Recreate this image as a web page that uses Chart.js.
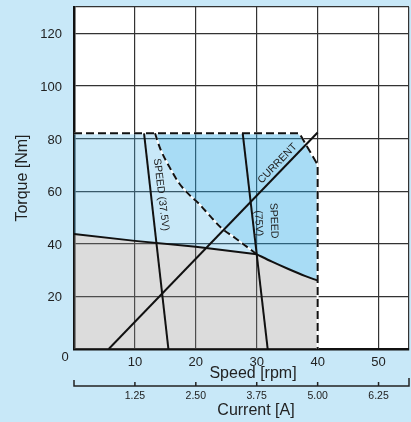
<!DOCTYPE html>
<html>
<head>
<meta charset="utf-8">
<script src="https://cdn.jsdelivr.net/npm/chart.js@4.4.0/dist/chart.umd.min.js"></script>
<style>
  html, body { margin: 0; padding: 0; background: #c8e8f8; }
  #wrap { width: 411px; height: 422px; position: relative; }
</style>
</head>
<body>
<div id="wrap"><canvas id="chart"></canvas></div>
<script>
// ticks
const speedTicks = [10, 20, 30, 40, 50];
const currentTicks = [1.25, 2.5, 3.75, 5, 6.25];
const torqueTicks = [20, 40, 60, 80, 100, 120];

// continuous torque line
const torqueX = [0, 10, 20, 30];
const torqueY = [43.7, 41.1, 38.9, 36];

// 75V speed limit curve
const limit75X = [30, 32.5, 35.2, 38, 40];
const limit75Y = [36, 33.2, 30.4, 27.7, 26];

// 37.5V envelope (dashed curve)
const env37X = [13.3, 14.2, 15.6, 17.2, 18.9, 20.4, 22.4, 24.2, 26.5, 28.7, 30];
const env37Y = [82, 75.9, 69.5, 63.2, 58.7, 55.5, 50.4, 46, 42.1, 38.3, 36];

// peak torque limit (dashed)
const peakX = [0, 37, 40, 40];
const peakY = [82, 82, 70, 0];

const speed37X = [11.5, 15.5];
const speed37Y = [82, 0];
const speed75X = [27.7, 31.8];
const speed75Y = [82, 0];
const currentX = [5.7, 40];
const currentY = [0, 82.3];

const FONT = '"Liberation Sans", Arial, sans-serif';

function pts(xs, ys) {
    return xs.map((x, i) => ({ x: x, y: ys[i] }));
}

// zonas preenchidas
const grayPts = pts(torqueX, torqueY).concat(pts(limit75X, limit75Y).slice(1));

const palePts = [{ x: peakX[0], y: peakY[0] }]
    .concat(pts(env37X, env37Y))
    .concat(pts(torqueX, torqueY).reverse().slice(1));

const bluePts = [{ x: env37X[0], y: env37Y[0] }]
    .concat(pts(peakX, peakY).slice(1, 3))
    .concat(pts(limit75X, limit75Y).reverse())
    .concat(pts(env37X, env37Y).reverse().slice(1));

function area(data, color, fill, order) {
    return {
        data: data, fill: fill, backgroundColor: color,
        borderColor: 'transparent', borderWidth: 0,
        pointRadius: 0, order: order
    };
}

function line(data, color, width, dash, order, smooth) {
    return {
        data: data, fill: false, borderColor: color, borderWidth: width,
        borderDash: dash || [], pointRadius: 0, order: order,
        cubicInterpolationMode: smooth ? 'monotone' : 'default'
    };
}

function noPad(s) {
    s.paddingTop = 0;
    s.paddingBottom = 0;
    s.paddingLeft = 0;
    s.paddingRight = 0;
}

const decor = {
    id: 'decor',
    beforeDraw(chart) {
        const a = chart.chartArea;
        const ctx = chart.ctx;
        ctx.save();
        ctx.fillStyle = '#fff';
        ctx.fillRect(a.left, a.top, a.right - a.left, a.bottom - a.top);
        ctx.restore();
    },
    afterDraw(chart) {
        const ctx = chart.ctx;
        const a = chart.chartArea;
        const x = chart.scales.x, y = chart.scales.y, x2 = chart.scales.x2;
        ctx.save();
        ctx.fillStyle = '#222';

        ctx.font = '13px ' + FONT;
        ctx.textAlign = 'center';
        ctx.textBaseline = 'middle';
        ctx.fillText('0', a.left - 9, a.bottom + 8);

        // eixo da corrente
        const ly = x2.top;
        ctx.strokeStyle = '#222';
        ctx.lineWidth = 1.5;
        ctx.beginPath();
        ctx.moveTo(a.left, ly - 6);
        ctx.lineTo(a.left, ly);
        ctx.lineTo(a.right, ly);
        ctx.lineTo(a.right, ly - 8);
        currentTicks.forEach(v => {
            const px = x2.getPixelForValue(v);
            ctx.moveTo(px, ly);
            ctx.lineTo(px, ly - 4);
        });
        ctx.stroke();

        ctx.font = '16px ' + FONT;
        ctx.textBaseline = 'alphabetic';
        ctx.fillText('Speed [rpm]', 253, 378);
        ctx.fillText('Current [A]', 256, 415);
        ctx.save();
        ctx.translate(26.5, (a.top + a.bottom) / 2);
        ctx.rotate(-Math.PI / 2);
        ctx.fillText('Torque [Nm]', 0, 0);
        ctx.restore();

        // rótulos das curvas
        ctx.font = '10.5px ' + FONT;
        ctx.textBaseline = 'middle';
        function label(text, vx, vy, deg) {
            ctx.save();
            ctx.translate(x.getPixelForValue(vx), y.getPixelForValue(vy));
            ctx.rotate(deg * Math.PI / 180);
            ctx.fillText(text, 0, 0);
            ctx.restore();
        }
        label('SPEED (37.5V)', 14.3, 58.7, 83);
        label('SPEED', 32.8, 48.8, 88);
        label('(75V)', 30.3, 47.8, 88);
        label('CURRENT', 33.4, 70.5, -46);
        ctx.restore();
    }
};

new Chart(document.getElementById('chart'), {
    type: 'line',
    data: {
        datasets: [
            area(palePts, 'rgba(72,178,232,0.3)', 'shape', 9),
            area(bluePts, 'rgba(38,168,230,0.4)', 'shape', 8),
            area(grayPts, 'rgba(138,138,138,0.3)', 'origin', 7),
            line(pts(env37X, env37Y), '#fff', 2, null, 6, true),
            line(pts(peakX, peakY), '#fff', 2, null, 6),
            line(pts(env37X, env37Y), '#111', 2, [7, 4], 5, true),
            line(pts(peakX, peakY), '#111', 2, [8, 4], 5),
            line(pts(torqueX, torqueY), '#111', 2, null, 4),
            line(pts(limit75X, limit75Y), '#111', 2, null, 4, true),
            line(pts(speed37X, speed37Y), '#111', 2, null, 4),
            line(pts(speed75X, speed75Y), '#111', 2, null, 4),
            line(pts(currentX, currentY), '#111', 2, null, 4)
        ]
    },
    options: {
        responsive: true,
        maintainAspectRatio: false,
        animation: false,
        events: [],
        layout: { padding: { top: 7, right: 2, left: 0, bottom: 0 } },
        plugins: { legend: { display: false }, tooltip: { enabled: false } },
        scales: {
            x: {
                type: 'linear', position: 'bottom', weight: 0,
                min: 0, max: 55,
                afterBuildTicks: s => { s.ticks = [0].concat(speedTicks, [55]).map(v => ({ value: v })); },
                afterFit: s => { s.height = 37; noPad(s); },
                grid: { color: '#333', lineWidth: 1.2, drawTicks: false },
                border: { color: '#111', width: 2.5 },
                ticks: {
                    padding: 6, color: '#222', font: { family: FONT, size: 13 },
                    maxRotation: 0, autoSkip: false,
                    callback: v => speedTicks.includes(v) ? String(v) : ''
                }
            },
            x2: {
                type: 'linear', position: 'bottom', weight: 1,
                min: 0, max: 55 / 8,
                afterBuildTicks: s => { s.ticks = currentTicks.map(v => ({ value: v })); },
                afterFit: s => { s.height = 36; noPad(s); },
                grid: { display: false, drawTicks: false },
                border: { display: false },
                ticks: {
                    padding: 3.5, color: '#222', font: { family: FONT, size: 10.5 },
                    maxRotation: 0, autoSkip: false,
                    callback: v => v.toFixed(2)
                }
            },
            y: {
                type: 'linear', position: 'left',
                min: 0, max: 130,
                afterBuildTicks: s => { s.ticks = [0].concat(torqueTicks, [130]).map(v => ({ value: v })); },
                afterFit: s => { s.width = 74; noPad(s); },
                grid: { color: '#333', lineWidth: 1.2, drawTicks: false },
                border: { color: '#111', width: 2.5 },
                ticks: {
                    padding: 12, labelOffset: 1.5, color: '#222', font: { family: FONT, size: 13 },
                    callback: v => torqueTicks.includes(v) ? String(v) : ''
                }
            }
        }
    },
    plugins: [decor]
});
</script>
</body>
</html>
